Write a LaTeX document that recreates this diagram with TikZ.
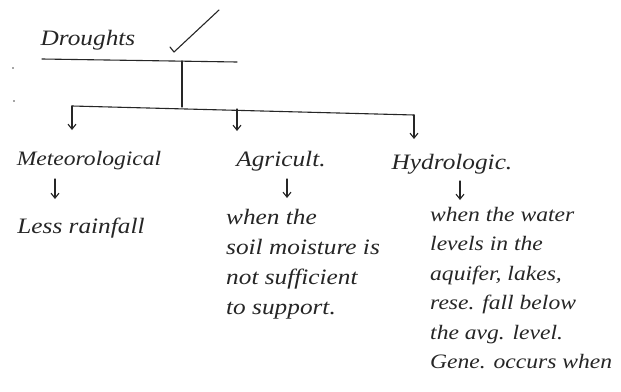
\documentclass[tikz,border=0pt]{standalone}
\usepackage{fontspec}
\setmainfont{Liberation Serif}[FakeStretch=1.15]
\usetikzlibrary{arrows.meta}
\begin{document}
\begin{tikzpicture}[x=1pt,y=-1pt,
  ink/.style={draw=black!85,line width=1.1pt,line cap=round,line join=round},
  arr/.style={ink,-{Straight Barb[length=5pt,width=8pt]}},
  hand/.style={font=\fontsize{22}{30}\selectfont\itshape,text=black!85,inner sep=0pt},
  block/.style={hand,align=left,anchor=north west}]
\useasboundingbox[fill=white] (0,0) rectangle (621,391);
% title
\node[hand] (dr) at (88,40) {Droughts};
\coordinate (ul1) at (42,59);
\coordinate (ul2) at (237,62);
\draw[ink] (ul1) -- (ul2);
\coordinate (t1) at (170,47);
\coordinate (t2) at (174,52);
\coordinate (t3) at (219,10);
\draw[ink] (t1) -- (t2) -- (t3);
% stray dots
\fill[black!70] (13,68) circle (0.9pt);
\fill[black!70] (14,101) circle (0.9pt);
% stem and bar
\coordinate (v1) at (182,61);
\coordinate (v2) at (182,107);
\draw[ink] (v1) -- (v2);
\coordinate (h1) at (72,106);
\coordinate (hm) at (237,109);
\coordinate (h2) at (414,115);
\draw[ink] (h1) -- (h2);
% categories
\node[hand,font=\fontsize{20.5}{30}\selectfont\itshape] (met) at (89,161) {Meteorological};
\node[hand] (agr) at (281,161) {Agricult.};
\node[hand] (hyd) at (452,164) {Hydrologic.};
\coordinate (a1) at (72,130);
\coordinate (a2) at (237,131);
\coordinate (a3) at (414,139);
\draw[arr] (h1) -- (a1);
\draw[arr] (hm) -- (a2);
\draw[arr] (h2) -- (a3);
% descriptions
\node[hand] (less) at (81,228) {Less rainfall};
\node[block] (agtxt) at (226,209) {when the\\soil moisture is\\not sufficient\\to support.};
\node[block,font=\fontsize{20.5}{29.5}\selectfont\itshape] (hytxt) at (430,207) {when the water\\levels in the\\aquifer, lakes,\\rese. fall below\\the avg. level.\\Gene. occurs when};
\coordinate (m1) at (55,179);
\coordinate (m2) at (55,199);
\coordinate (g1) at (287,179);
\coordinate (g2) at (287,198);
\coordinate (y1) at (460,181);
\coordinate (y2) at (460,200);
\draw[arr] (m1) -- (m2);
\draw[arr] (g1) -- (g2);
\draw[arr] (y1) -- (y2);
\end{tikzpicture}
\end{document}
